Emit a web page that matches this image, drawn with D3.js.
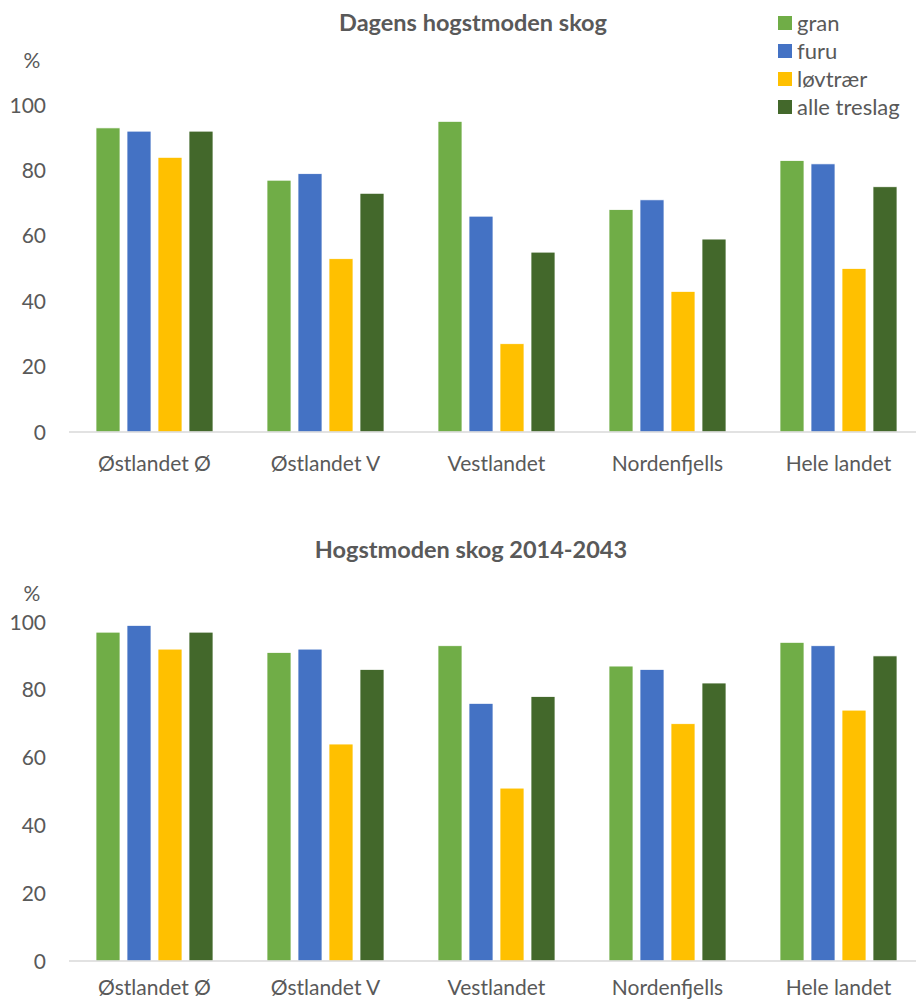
<!DOCTYPE html>
<html>
<head>
<meta charset="utf-8">
<script src="https://cdn.jsdelivr.net/npm/d3@7"></script>
<style>
  html, body { margin: 0; padding: 0; background: #fff; }
  svg { display: block; }
  text { font-family: Lato, "Open Sans", sans-serif; fill: #595959; }
</style>
</head>
<body>
<svg id="chart" width="916" height="1001"></svg>
<script>
const categories = ["Østlandet Ø", "Østlandet V", "Vestlandet", "Nordenfjells", "Hele landet"];
const seriesNames = ["gran", "furu", "løvtrær", "alle treslag"];
const seriesColors = ["#70AD47", "#4472C4", "#FFC000", "#43682B"];
const yTicks = [0, 20, 40, 60, 80, 100];

const title1 = "Dagens hogstmoden skog";
const gran1 = [93, 77, 95, 68, 83];
const furu1 = [92, 79, 66, 71, 82];
const lov1 = [84, 53, 27, 43, 50];
const alle1 = [92, 73, 55, 59, 75];

const title2 = "Hogstmoden skog 2014-2043";
const gran2 = [97, 91, 93, 87, 94];
const furu2 = [99, 92, 76, 86, 93];
const lov2 = [92, 64, 51, 70, 74];
const alle2 = [97, 86, 78, 82, 90];

const svg = d3.select("#chart");

function drawChart(cfg) {
  const g = svg.append("g");
  const x0 = d3.scaleBand().domain(categories).range([69, 924]).paddingInner(0).paddingOuter(0);
  const x1 = d3.scaleBand().domain(seriesNames).range([0, x0.bandwidth()])
    .paddingInner(0.226).paddingOuter(0.871);
  const y = d3.scaleLinear().domain([0, 100]).range([cfg.y0, cfg.y100]);

  // title
  g.append("text").attr("x", cfg.titleX).attr("y", cfg.titleY)
    .attr("text-anchor", "middle").style("font-weight", "bold").style("font-size", "23.5px")
    .text(cfg.title);

  // % label
  g.append("text").attr("x", 32).attr("y", cfg.pctY).attr("dy", "0.36em")
    .attr("text-anchor", "middle").style("font-size", "21px").text("%");

  // y tick labels
  g.selectAll(".ytick").data(yTicks).join("text")
    .attr("x", 46).attr("y", d => y(d)).attr("dy", "0.36em")
    .attr("text-anchor", "end").style("font-size", "21px")
    .text(d => d);

  // bars
  const rows = categories.map((c, i) => ({ c, vals: cfg.series.map((s, j) => ({ name: seriesNames[j], v: s[i], color: seriesColors[j] })) }));
  const grp = g.selectAll(".grp").data(rows).join("g")
    .attr("transform", d => `translate(${x0(d.c)},0)`);
  grp.selectAll("rect").data(d => d.vals).join("rect")
    .attr("x", d => x1(d.name)).attr("width", x1.bandwidth())
    .attr("y", d => y(d.v)).attr("height", d => y(0) - y(d.v))
    .attr("fill", d => d.color)
    .attr("stroke", "#fff").attr("stroke-width", 0.75);

  // baseline
  g.append("line").attr("x1", 69).attr("x2", 916)
    .attr("y1", y(0)).attr("y2", y(0))
    .attr("stroke", "#D9D9D9").attr("stroke-width", 1.6);

  // category labels
  g.selectAll(".xlab").data(categories).join("text")
    .attr("x", d => x0(d) + x0.bandwidth() / 2).attr("y", y(0) + cfg.labOff)
    .attr("text-anchor", "middle").style("font-size", "21px")
    .text(d => d);
}

drawChart({ title: title1, titleX: 473, titleY: 31, pctY: 60, y0: 432, y100: 105,
  labOff: 39, series: [gran1, furu1, lov1, alle1] });
drawChart({ title: title2, titleX: 471, titleY: 558, pctY: 593, y0: 961, y100: 622,
  labOff: 34, series: [gran2, furu2, lov2, alle2] });

// legend
const leg = svg.append("g");
const legY = [23, 51, 79, 107];
seriesNames.forEach((n, i) => {
  leg.append("rect").attr("x", 778).attr("y", legY[i] - 7).attr("width", 14).attr("height", 14)
    .attr("fill", seriesColors[i]);
  leg.append("text").attr("x", 797).attr("y", legY[i]).attr("dy", "0.36em")
    .style("font-size", "22px").text(n);
});
</script>
</body>
</html>
